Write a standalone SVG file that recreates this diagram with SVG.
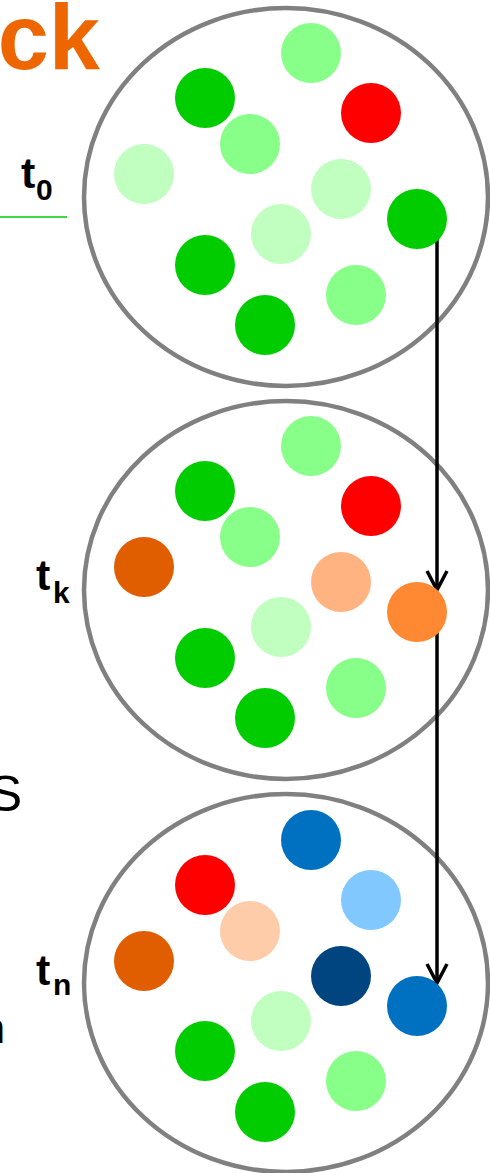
<svg xmlns="http://www.w3.org/2000/svg" width="490" height="1173" viewBox="0 0 490 1173">
<style>
.set{fill:#fff;stroke:#808080;stroke-width:4.5}
.lbl{font-family:"Liberation Sans",Arial,sans-serif;font-weight:bold;font-size:43px;fill:#000}
.sub{font-size:30px}
.dg{fill:#00CC00}.lg{fill:#88FF88}.pg{fill:#C0FFC0}.rd{fill:#FF0000}
.do{fill:#E05D00}.pc{fill:#FFB380}.or{fill:#FF8833}.bl{fill:#0070C0}
.lb{fill:#80C8FF}.pp{fill:#FFCCAA}.nv{fill:#004480}
.conn{stroke:#000;stroke-width:3.5;fill:none}
</style>
<defs>
<marker id="arr" viewBox="0 0 24 24" refX="21" refY="12" markerWidth="24" markerHeight="24" markerUnits="userSpaceOnUse" orient="auto">
<path d="M2,2 L21,12 L2,22" fill="none" stroke="#000" stroke-width="3.5"/>
</marker>
</defs>
<text x="100" y="69" text-anchor="end" style="font-family:'Liberation Sans',Arial,sans-serif;font-weight:bold;font-size:92px;fill:#EE6600">ck</text>
<line x1="0" y1="217" x2="67" y2="217" stroke="#00CC00" stroke-width="1.6"/>
<text x="22" y="811" text-anchor="end" style="font-family:'Liberation Sans',Arial,sans-serif;font-size:50px;fill:#000">S</text>
<text x="5" y="1043" text-anchor="end" style="font-family:'Liberation Sans',Arial,sans-serif;font-size:42px;fill:#000">n</text>

<g id="set-t0">
<ellipse class="set" cx="286" cy="197" rx="202" ry="189"/>
</g>
<g id="set-tk">
<ellipse class="set" cx="286" cy="590" rx="202" ry="189"/>
</g>
<g id="set-tn">
<ellipse class="set" cx="286" cy="983" rx="202" ry="189"/>
</g>

<g id="connectors">
<line class="conn" x1="437" y1="225" x2="437" y2="590" marker-end="url(#arr)"/>
<line class="conn" x1="437" y1="618" x2="437" y2="983" marker-end="url(#arr)"/>
</g>

<g id="items-t0">
<circle class="lg" cx="311" cy="53" r="30"/>
<circle class="dg" cx="205" cy="98" r="30"/>
<circle class="rd" cx="371" cy="113" r="30"/>
<circle class="lg" cx="250" cy="144" r="30"/>
<circle class="pg" cx="144" cy="174" r="30"/>
<circle class="pg" cx="341" cy="189" r="30"/>
<circle class="dg" cx="417" cy="219" r="30"/>
<circle class="pg" cx="281" cy="234" r="30"/>
<circle class="dg" cx="205" cy="265" r="30"/>
<circle class="lg" cx="356" cy="295" r="30"/>
<circle class="dg" cx="265" cy="325" r="30"/>
</g>
<g id="items-tk">
<circle class="lg" cx="311" cy="446" r="30"/>
<circle class="dg" cx="205" cy="491" r="30"/>
<circle class="rd" cx="371" cy="506" r="30"/>
<circle class="lg" cx="250" cy="537" r="30"/>
<circle class="do" cx="144" cy="567" r="30"/>
<circle class="pc" cx="341" cy="582" r="30"/>
<circle class="or" cx="417" cy="612" r="30"/>
<circle class="pg" cx="281" cy="627" r="30"/>
<circle class="dg" cx="205" cy="658" r="30"/>
<circle class="lg" cx="356" cy="688" r="30"/>
<circle class="dg" cx="265" cy="718" r="30"/>
</g>
<g id="items-tn">
<circle class="bl" cx="311" cy="840" r="30"/>
<circle class="rd" cx="205" cy="885" r="30"/>
<circle class="lb" cx="371" cy="900" r="30"/>
<circle class="pp" cx="250" cy="931" r="30"/>
<circle class="do" cx="144" cy="961" r="30"/>
<circle class="nv" cx="341" cy="976" r="30"/>
<circle class="bl" cx="417" cy="1006" r="30"/>
<circle class="pg" cx="281" cy="1021" r="30"/>
<circle class="dg" cx="205" cy="1051" r="30"/>
<circle class="lg" cx="356" cy="1081" r="30"/>
<circle class="dg" cx="265" cy="1112" r="30"/>
</g>

<g id="label-t0"><text class="lbl" x="21" y="188">t<tspan class="sub" x="36" y="200">0</tspan></text></g>
<g id="label-tk"><text class="lbl" x="36" y="590">t<tspan class="sub" x="53" y="603">k</tspan></text></g>
<g id="label-tn"><text class="lbl" x="36" y="985">t<tspan class="sub" x="53" y="995">n</tspan></text></g>
</svg>
